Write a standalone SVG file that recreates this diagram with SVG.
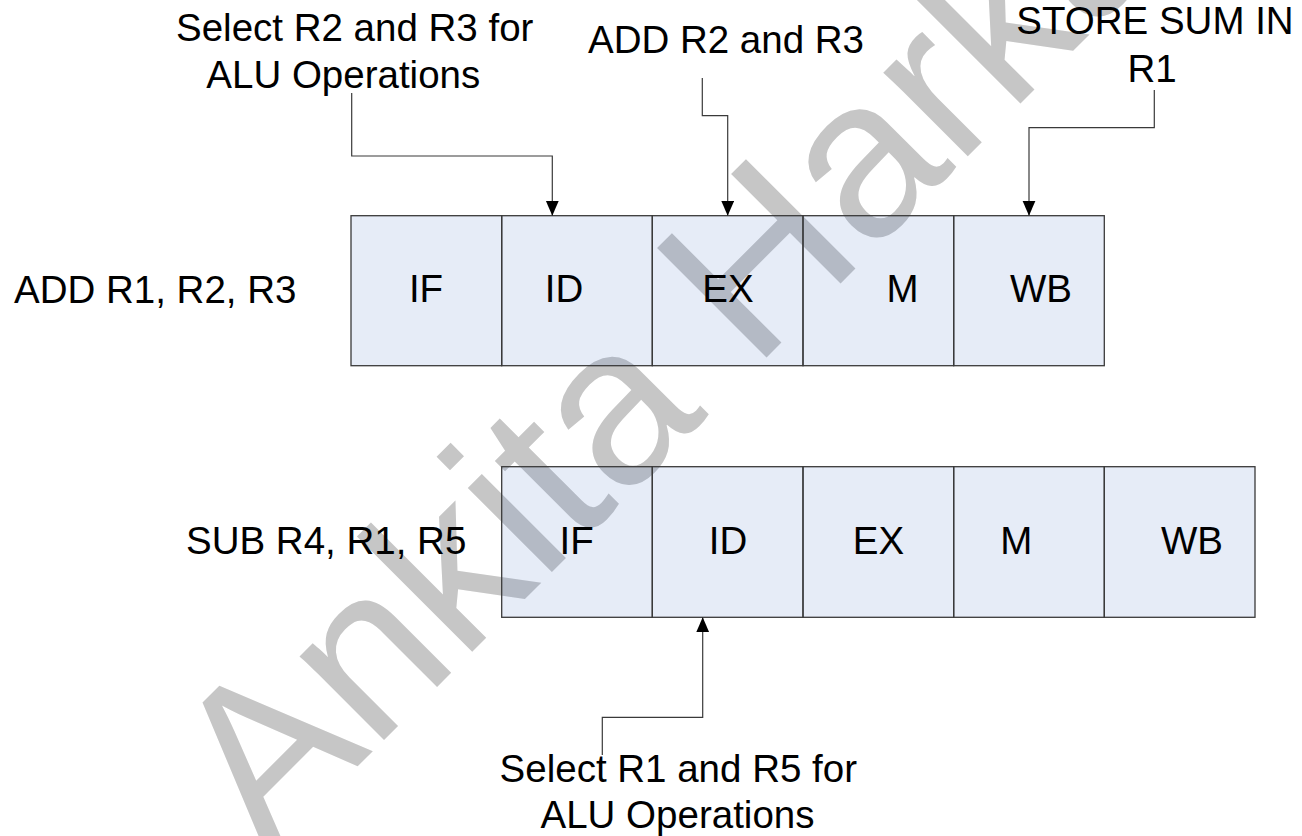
<svg xmlns="http://www.w3.org/2000/svg" width="1302" height="836" viewBox="0 0 1302 836">
<defs>
<style>
text{font-family:"Liberation Sans",Arial,sans-serif;font-size:38.5px;fill:#000}
.mid{text-anchor:middle}
.cell{fill:#3f6cc4;fill-opacity:0.13;stroke:#3a3a3a;stroke-width:1.3}
.conn{fill:none;stroke:#3a3a3a;stroke-width:1.2}
.wm{font-size:225px;fill:#c6c6c6}
</style>
<marker id="arr" markerUnits="userSpaceOnUse" markerWidth="16" markerHeight="14" refX="15" refY="6.5" orient="auto">
<path d="M0,0 L15,6.5 L0,13 z" fill="#000"/>
</marker>
</defs>
<rect width="1302" height="836" fill="#fff"/>
<text class="wm" x="267" y="857" transform="rotate(-45 267 857)">Ankita Harkar</text>

<g id="label-add">
<text x="14" y="303">ADD R1, R2, R3</text>
</g>
<g id="instr-add">
<g id="add-if"><rect class="cell" x="351" y="215.7" width="150.7" height="150"/><text class="mid" x="426" y="302">IF</text></g>
<g id="add-id"><rect class="cell" x="501.7" y="215.7" width="150.6" height="150"/><text class="mid" x="564" y="302">ID</text></g>
<g id="add-ex"><rect class="cell" x="652.3" y="215.7" width="150.7" height="150"/><text class="mid" x="728" y="302">EX</text></g>
<g id="add-m"><rect class="cell" x="803" y="215.7" width="150.7" height="150"/><text class="mid" x="902.5" y="302">M</text></g>
<g id="add-wb"><rect class="cell" x="953.7" y="215.7" width="150.6" height="150"/><text class="mid" x="1041" y="302">WB</text></g>
</g>

<g id="label-sub">
<text x="186" y="554">SUB R4, R1, R5</text>
</g>
<g id="instr-sub">
<g id="sub-if"><rect class="cell" x="501.7" y="466.7" width="150.6" height="150.6"/><text class="mid" x="576.7" y="554">IF</text></g>
<g id="sub-id"><rect class="cell" x="652.3" y="466.7" width="150.7" height="150.6"/><text class="mid" x="728" y="554">ID</text></g>
<g id="sub-ex"><rect class="cell" x="803" y="466.7" width="150.7" height="150.6"/><text class="mid" x="878.5" y="554">EX</text></g>
<g id="sub-m"><rect class="cell" x="953.7" y="466.7" width="150.6" height="150.6"/><text class="mid" x="1016.3" y="554">M</text></g>
<g id="sub-wb"><rect class="cell" x="1104.3" y="466.7" width="150.7" height="150.6"/><text class="mid" x="1192" y="554">WB</text></g>
</g>

<g id="note-select-r2r3">
<text class="mid" x="354.7" y="41">Select R2 and R3 for</text>
<text class="mid" x="343.3" y="88">ALU Operations</text>
</g>
<g id="note-add-r2r3">
<text class="mid" x="726" y="53">ADD R2 and R3</text>
</g>
<g id="note-store">
<text class="mid" x="1155" y="34">STORE SUM IN</text>
<text class="mid" x="1152" y="82">R1</text>
</g>
<g id="note-select-r1r5">
<text class="mid" x="678.3" y="782">Select R1 and R5 for</text>
<text class="mid" x="677.5" y="828">ALU Operations</text>
</g>

<g id="connectors">
<path class="conn" d="M351.7,93 V156 H552.3 V215.7" marker-end="url(#arr)"/>
<path class="conn" d="M702.3,78 V115.7 H727.7 V215.7" marker-end="url(#arr)"/>
<path class="conn" d="M1154.3,90 V127.7 H1029 V215.7" marker-end="url(#arr)"/>
<path class="conn" d="M602.3,755 V717.3 H702.7 V617.3" marker-end="url(#arr)"/>
</g>
</svg>
